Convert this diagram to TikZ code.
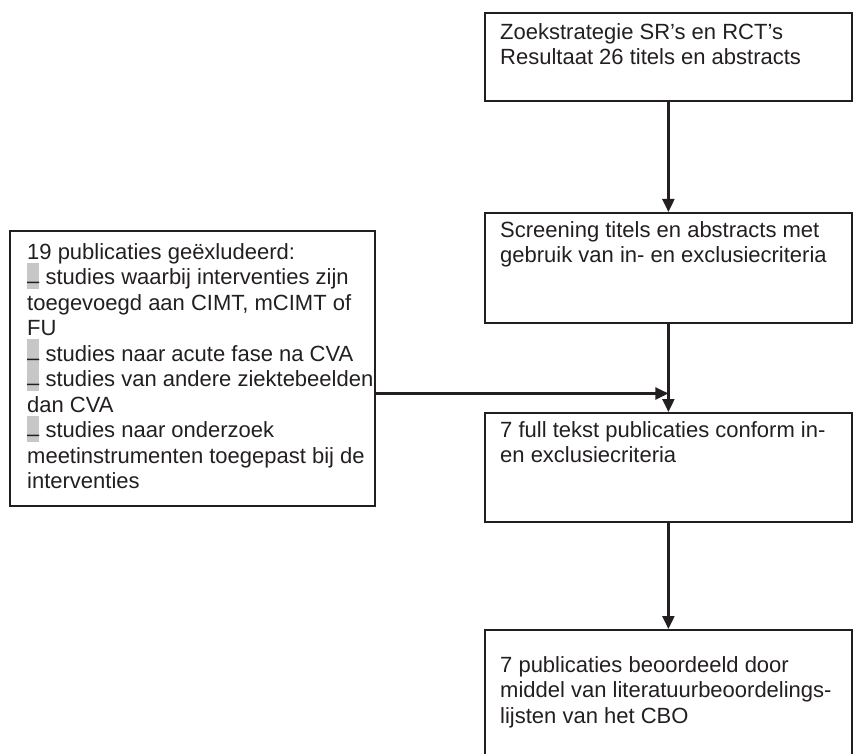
\documentclass[tikz,border=0pt]{standalone}
\usepackage{fontspec}
\setmainfont{Liberation Sans}
\usetikzlibrary{arrows.meta,calc,positioning}

\definecolor{lijn}{HTML}{231F20}
\definecolor{markering}{gray}{0.78}

% grijs gemarkeerd streepje voor de opsomming
\newcommand{\streep}{\smash{{\setlength{\fboxsep}{0pt}\colorbox{markering}{\rule[-1pt]{0pt}{23pt}\raisebox{-4pt}{–}}}}\ }
% vaste hoogte van de eerste regel
\newcommand{\eerste}{\rule{0pt}{18pt}}

\begin{document}
\begin{tikzpicture}[x=1pt,y=-1pt,line join=miter,
  font=\fontsize{22}{25.5}\selectfont,
  vak/.style={draw=lijn,line width=1.8pt,anchor=north west,inner sep=0pt},
  tekst/.style={anchor=north west,inner sep=0pt,align=left,text=lijn},
  pijl/.style={draw=lijn,line width=2.2pt,-{Triangle[length=13pt,width=12pt]}}]

  \clip (0,0) rectangle (862,754);

  % ---- rechterkolom: de stappen van de selectie ----------------------------
  \node[vak,minimum width=367pt,minimum height=88pt]  (zoek)   at (484,12)  {};
  \node[vak,minimum width=367pt,minimum height=110pt] (screen) at (484,212) {};
  \node[vak,minimum width=367pt,minimum height=109pt] (full)   at (484,412) {};
  \node[vak,minimum width=367pt,minimum height=160pt] (cbo)    at (484,629) {};

  \node[tekst] (zoektxt) at ([shift={(16,9)}]zoek.north west)
    {\eerste Zoekstrategie SR’s en RCT’s\\Resultaat 26 titels en abstracts};
  \node[tekst] (screentxt) at ([shift={(16,7)}]screen.north west)
    {\eerste Screening titels en abstracts met\\gebruik van in- en exclusiecriteria};
  \node[tekst] (fulltxt) at ([shift={(16,7)}]full.north west)
    {\eerste 7 full tekst publicaties conform in-\\en exclusiecriteria};
  \node[tekst] (cbotxt) at ([shift={(16,25)}]cbo.north west)
    {\eerste 7 publicaties beoordeeld door\\middel van literatuurbeoordelings-\\lijsten van het CBO};

  % ---- linkerkolom: de uitgesloten publicaties -----------------------------
  \node[vak,minimum width=365pt,minimum height=275pt] (excl) at (9,230) {};
  \node[tekst] (excltxt) at ([shift={(18,11)}]excl.north west)
    {\eerste 19 publicaties geëxludeerd:\\
     \streep studies waarbij interventies zijn\\
     toegevoegd aan CIMT, mCIMT of\\
     FU\\
     \streep studies naar acute fase na CVA\\
     \streep studies van andere ziektebeelden\\
     dan CVA\\
     \streep studies naar onderzoek\\
     meetinstrumenten toegepast bij de\\
     interventies};

  % ---- verbindingen ----------------------------------------------------------
  \coordinate (knik) at ($(screen.south)!0.79!(full.north)$);

  \draw[pijl] (zoek) -- (screen);
  \draw[pijl] (screen) -- (full);
  \draw[pijl] (full) -- (cbo);
  \draw[pijl] (excl.east |- knik) -- (knik);

\end{tikzpicture}
\end{document}
